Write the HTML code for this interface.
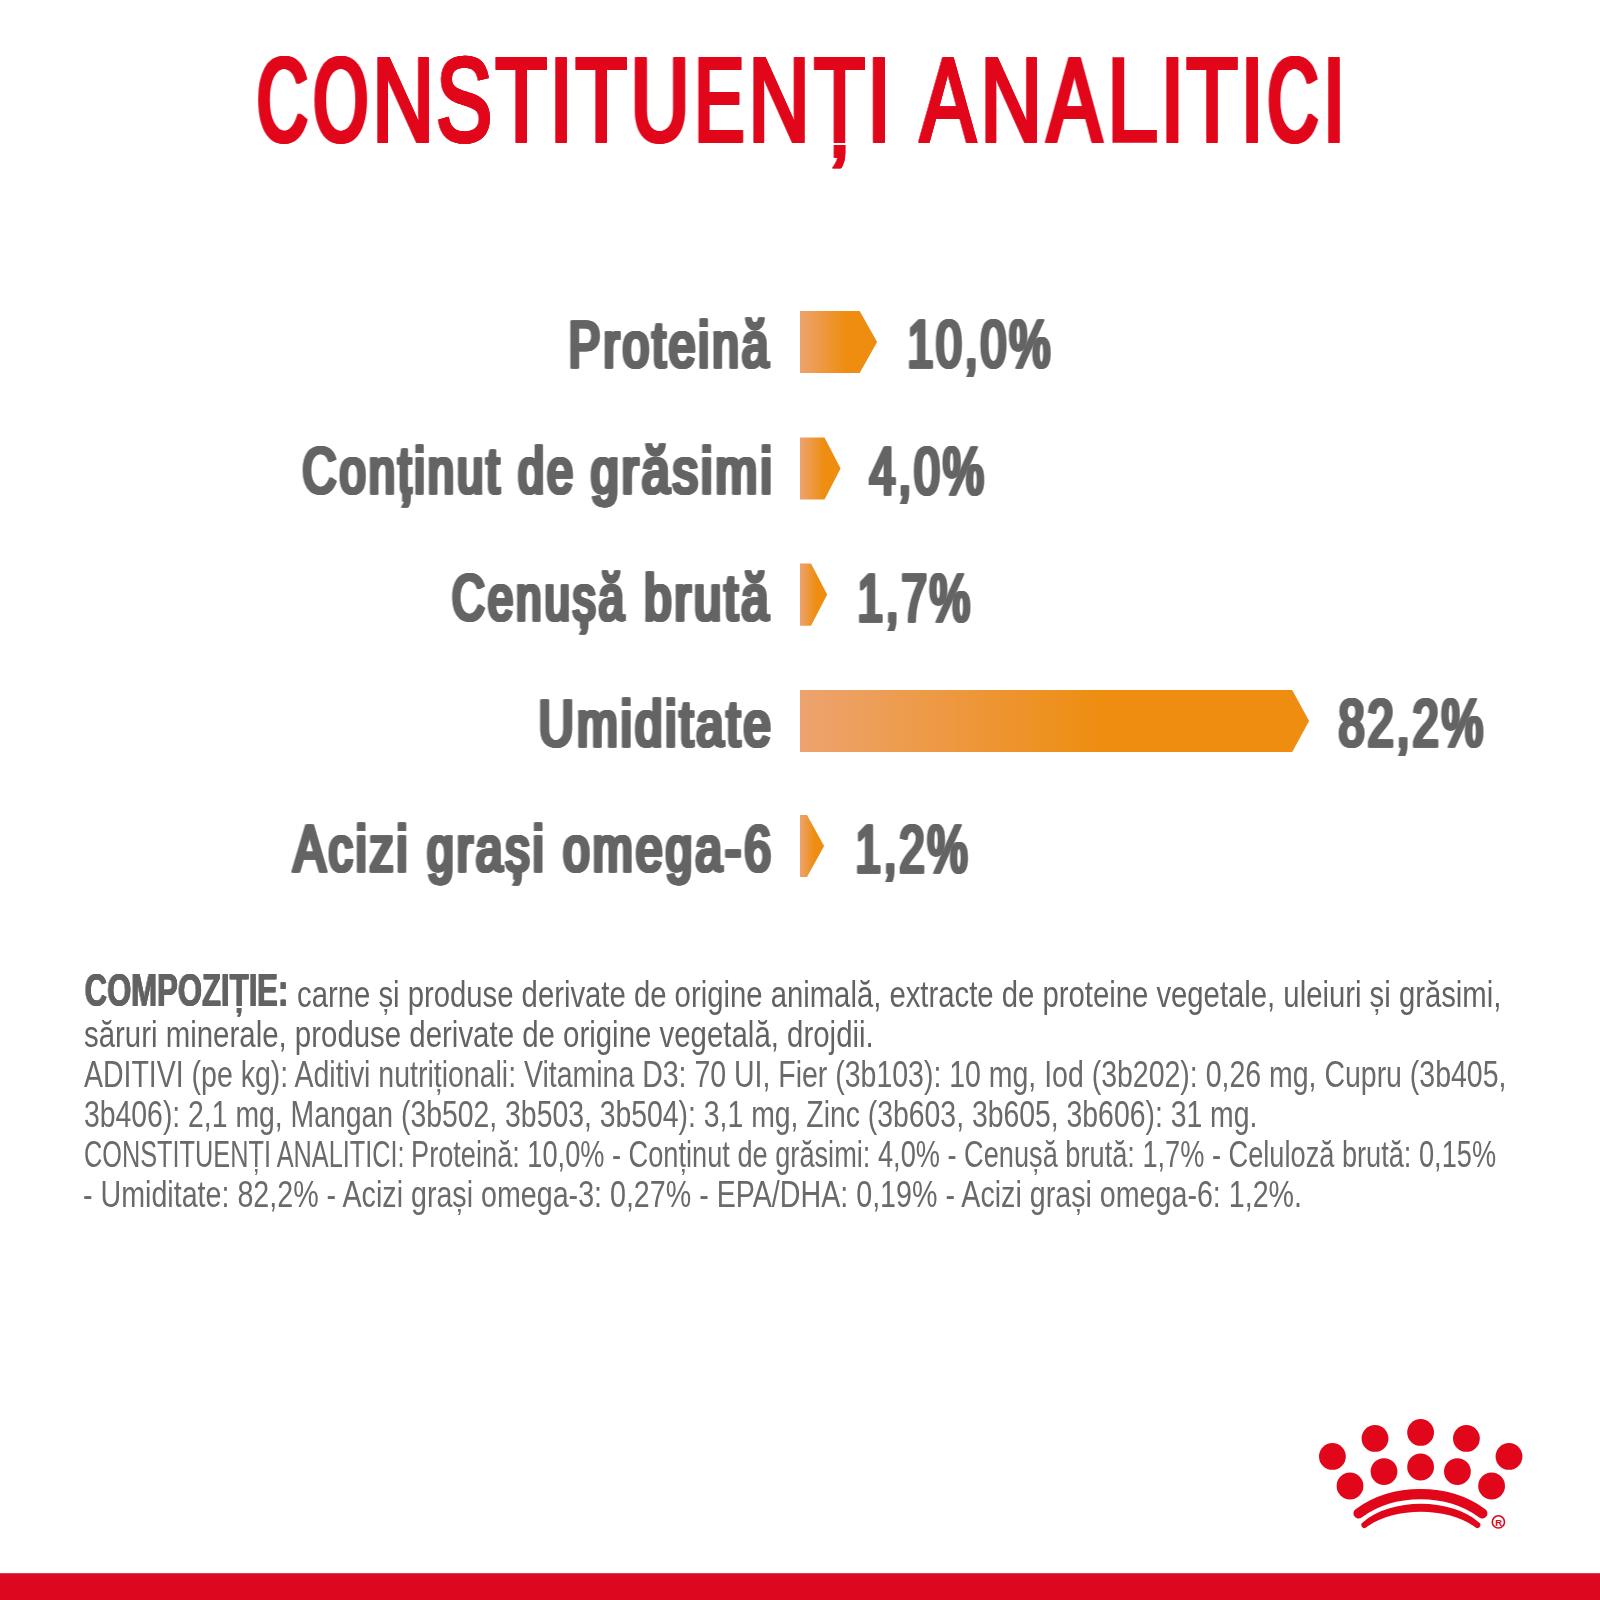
<!DOCTYPE html>
<html lang="ro"><head><meta charset="utf-8"><title>Constituenți analitici</title>
<style>
html,body{margin:0;padding:0;background:#fff}
body{width:1600px;height:1600px;position:relative;overflow:hidden;font-family:'Liberation Sans', sans-serif}
svg{position:absolute;left:0;top:0}
</style></head><body>
<svg width="1600" height="1600" viewBox="0 0 1600 1600">
<defs><linearGradient id="g" x1="0" y1="0" x2="1" y2="0"><stop offset="0" stop-color="#eda36f"/><stop offset="0.6" stop-color="#ee8d0f"/><stop offset="1" stop-color="#ee8d0f"/></linearGradient></defs>
<polygon fill="url(#g)" points="800,310.9 859.7,310.9 877.1,341.9 859.7,373.0 800,373.0"/>
<polygon fill="url(#g)" points="800,437.4 824.5,437.4 840.6,468.4 824.5,499.5 800,499.5"/>
<polygon fill="url(#g)" points="800,563.6 811.0,563.6 827.2,594.6 811.0,625.7 800,625.7"/>
<polygon fill="url(#g)" points="800,690.0 1292.2,690.0 1309.1,721.0 1292.2,752.1 800,752.1"/>
<polygon fill="url(#g)" points="800,814.9 807.0,814.9 824.1,845.9 807.0,877.0 800,877.0"/>
<g fill="#e2061b">
<circle cx="1375.0" cy="1438.4" r="13.4"/>
<circle cx="1420.6" cy="1432.4" r="13.4"/>
<circle cx="1466.4" cy="1438.4" r="13.4"/>
<circle cx="1332.4" cy="1456.4" r="13.4"/>
<circle cx="1509.0" cy="1456.4" r="13.4"/>
<circle cx="1384.0" cy="1471.6" r="13.4"/>
<circle cx="1420.6" cy="1467.0" r="13.4"/>
<circle cx="1457.4" cy="1471.6" r="13.4"/>
<circle cx="1350.0" cy="1486.0" r="13.4"/>
<circle cx="1491.6" cy="1486.0" r="13.4"/>
</g>
<path d="M1358.6 1513.3 C1393.6 1487.8 1447.3 1487.8 1482.3 1513.3" fill="none" stroke="#e2061b" stroke-linecap="round" stroke-width="10.3"/>
<path d="M1362.7 1522.4 C1390.7 1497.5 1451 1497.5 1479 1522.4 A3.1 3.1 0 0 1 1476 1527.8 C1448 1506.5 1393.7 1506.5 1365.7 1527.8 A3.1 3.1 0 0 1 1362.7 1522.4 Z" fill="#e2061b"/>
<circle cx="1498.4" cy="1521.9" r="6.1" fill="none" stroke="#e2061b" stroke-width="1.6"/>
<text x="1498.6" y="1526" text-anchor="middle" font-family="Liberation Sans, sans-serif" font-weight="700" font-size="9.6" fill="#e2061b">R</text>
<rect x="0" y="1573.2" width="1600" height="26.8" fill="#dd0820"/>
</svg>
<h1 id="title" style="margin:0;position:absolute;left:0;top:39.64px;white-space:nowrap;font:400 119.33px/119.33px 'Liberation Sans', sans-serif;color:#e2061b;-webkit-text-stroke:3.70px #e2061b;"><span id="t0" style="display:inline-block;transform-origin:0 0;transform:translateX(257.38px) scaleX(0.5844);filter:drop-shadow(2.42px 0 0 #e2061b) drop-shadow(-2.42px 0 0 #e2061b);">C</span><span id="t1" style="display:inline-block;transform-origin:0 0;transform:translateX(227.92px) scaleX(0.5827);filter:drop-shadow(2.46px 0 0 #e2061b) drop-shadow(-2.46px 0 0 #e2061b);">O</span><span id="t2" style="display:inline-block;transform-origin:0 0;transform:translateX(193.57px) scaleX(0.7189);filter:drop-shadow(0.59px 0 0 #e2061b) drop-shadow(-0.59px 0 0 #e2061b);">N</span><span id="t3" style="display:inline-block;transform-origin:0 0;transform:translateX(171.59px) scaleX(0.7029);filter:drop-shadow(0.82px 0 0 #e2061b) drop-shadow(-0.82px 0 0 #e2061b);">S</span><span id="t4" style="display:inline-block;transform-origin:0 0;transform:translateX(150.81px) scaleX(0.7096);filter:drop-shadow(0.74px 0 0 #e2061b) drop-shadow(-0.74px 0 0 #e2061b);">T</span><span id="t5" style="display:inline-block;transform-origin:0 0;transform:translateX(131.61px) scaleX(0.7202);filter:drop-shadow(0.70px 0 0 #e2061b) drop-shadow(-0.70px 0 0 #e2061b);">I</span><span id="t6" style="display:inline-block;transform-origin:0 0;transform:translateX(124.81px) scaleX(0.7096);filter:drop-shadow(0.74px 0 0 #e2061b) drop-shadow(-0.74px 0 0 #e2061b);">T</span><span id="t7" style="display:inline-block;transform-origin:0 0;transform:translateX(107.14px) scaleX(0.6749);filter:drop-shadow(1.01px 0 0 #e2061b) drop-shadow(-1.01px 0 0 #e2061b);">U</span><span id="t8" style="display:inline-block;transform-origin:0 0;transform:translateX(84.80px) scaleX(0.6246);filter:drop-shadow(1.91px 0 0 #e2061b) drop-shadow(-1.91px 0 0 #e2061b);">E</span><span id="t9" style="display:inline-block;transform-origin:0 0;transform:translateX(58.86px) scaleX(0.7119);filter:drop-shadow(0.69px 0 0 #e2061b) drop-shadow(-0.69px 0 0 #e2061b);">N</span><span id="t10" style="display:inline-block;transform-origin:0 0;transform:translateX(38.31px) scaleX(0.7040);filter:drop-shadow(0.83px 0 0 #e2061b) drop-shadow(-0.83px 0 0 #e2061b);">Ț</span><span id="t11" style="display:inline-block;transform-origin:0 0;transform:translateX(18.11px) scaleX(0.7453);filter:drop-shadow(0.70px 0 0 #e2061b) drop-shadow(-0.70px 0 0 #e2061b);">I</span> <span id="t12" style="display:inline-block;transform-origin:0 0;transform:translateX(5.58px) scaleX(0.6950);filter:drop-shadow(0.98px 0 0 #e2061b) drop-shadow(-0.98px 0 0 #e2061b);">A</span><span id="t13" style="display:inline-block;transform-origin:0 0;transform:translateX(-14.31px) scaleX(0.7161);filter:drop-shadow(0.63px 0 0 #e2061b) drop-shadow(-0.63px 0 0 #e2061b);">N</span><span id="t14" style="display:inline-block;transform-origin:0 0;transform:translateX(-33.32px) scaleX(0.6780);filter:drop-shadow(1.02px 0 0 #e2061b) drop-shadow(-1.02px 0 0 #e2061b);">A</span><span id="t15" style="display:inline-block;transform-origin:0 0;transform:translateX(-53.74px) scaleX(0.7881);">L</span><span id="t16" style="display:inline-block;transform-origin:0 0;transform:translateX(-66.34px) scaleX(0.7265);filter:drop-shadow(0.70px 0 0 #e2061b) drop-shadow(-0.70px 0 0 #e2061b);">I</span><span id="t17" style="display:inline-block;transform-origin:0 0;transform:translateX(-73.54px) scaleX(0.7089);filter:drop-shadow(0.75px 0 0 #e2061b) drop-shadow(-0.75px 0 0 #e2061b);">T</span><span id="t18" style="display:inline-block;transform-origin:0 0;transform:translateX(-92.54px) scaleX(0.7202);filter:drop-shadow(0.70px 0 0 #e2061b) drop-shadow(-0.70px 0 0 #e2061b);">I</span><span id="t19" style="display:inline-block;transform-origin:0 0;transform:translateX(-97.97px) scaleX(0.5838);filter:drop-shadow(2.44px 0 0 #e2061b) drop-shadow(-2.44px 0 0 #e2061b);">C</span><span id="t20" style="display:inline-block;transform-origin:0 0;transform:translateX(-129.58px) scaleX(0.7077);filter:drop-shadow(0.70px 0 0 #e2061b) drop-shadow(-0.70px 0 0 #e2061b);">I</span></h1>
<div id="r2" style="margin:0;position:absolute;left:0;top:438.06px;white-space:nowrap;font:400 65.55px/65.55px 'Liberation Sans', sans-serif;color:#646464;-webkit-text-stroke:2.90px #646464;"><span id="l2a" style="display:inline-block;transform-origin:0 0;transform:translateX(302.87px) scaleX(0.7144);filter:drop-shadow(1.30px 0 0 #646464) drop-shadow(-1.30px 0 0 #646464);letter-spacing:4.50px;">Conținut</span> <span id="l2b" style="display:inline-block;transform-origin:0 0;transform:translateX(220.59px) scaleX(0.7081);filter:drop-shadow(1.30px 0 0 #646464) drop-shadow(-1.30px 0 0 #646464);letter-spacing:4.50px;">de</span> <span id="l2c" style="display:inline-block;transform-origin:0 0;transform:translateX(192.13px) scaleX(0.7589);filter:drop-shadow(1.30px 0 0 #646464) drop-shadow(-1.30px 0 0 #646464);letter-spacing:4.50px;">grăsimi</span></div>
<div id="r3" style="margin:0;position:absolute;left:0;top:565.06px;white-space:nowrap;font:400 65.55px/65.55px 'Liberation Sans', sans-serif;color:#646464;-webkit-text-stroke:2.90px #646464;"><span id="l3a" style="display:inline-block;transform-origin:0 0;transform:translateX(452.37px) scaleX(0.6917);filter:drop-shadow(1.30px 0 0 #646464) drop-shadow(-1.30px 0 0 #646464);letter-spacing:4.50px;">Cenușă</span> <span id="l3b" style="display:inline-block;transform-origin:0 0;transform:translateX(373.75px) scaleX(0.7402);filter:drop-shadow(1.30px 0 0 #646464) drop-shadow(-1.30px 0 0 #646464);letter-spacing:4.50px;">brută</span></div>
<div id="l1" style="position:absolute;white-space:nowrap;left:568.91px;top:311.61px;font:400 65.55px/65.55px 'Liberation Sans', sans-serif;color:#646464;transform-origin:0 0;transform:scaleX(0.7247);filter:drop-shadow(1.30px 0 0 #646464) drop-shadow(-1.30px 0 0 #646464);-webkit-text-stroke:2.90px #646464;letter-spacing:4.50px;">Proteină</div>
<div id="l4" style="position:absolute;white-space:nowrap;left:538.82px;top:690.66px;font:400 65.55px/65.55px 'Liberation Sans', sans-serif;color:#646464;transform-origin:0 0;transform:scaleX(0.7414);filter:drop-shadow(1.30px 0 0 #646464) drop-shadow(-1.30px 0 0 #646464);-webkit-text-stroke:2.90px #646464;letter-spacing:4.50px;">Umiditate</div>
<div id="l5" style="position:absolute;white-space:nowrap;left:293.54px;top:816.26px;font:400 65.55px/65.55px 'Liberation Sans', sans-serif;color:#646464;transform-origin:0 0;transform:scaleX(0.7268);filter:drop-shadow(1.30px 0 0 #646464) drop-shadow(-1.30px 0 0 #646464);-webkit-text-stroke:2.90px #646464;letter-spacing:4.50px;">Acizi grași omega-6</div>
<div id="v1" style="position:absolute;white-space:nowrap;left:908.37px;top:310.38px;font:400 67.01px/67.01px 'Liberation Sans', sans-serif;color:#646464;transform-origin:0 0;transform:scaleX(0.6853);filter:drop-shadow(1.30px 0 0 #646464) drop-shadow(-1.30px 0 0 #646464);-webkit-text-stroke:2.90px #646464;letter-spacing:4.50px;">10,0%</div>
<div id="v2" style="position:absolute;white-space:nowrap;left:870.42px;top:436.83px;font:400 67.01px/67.01px 'Liberation Sans', sans-serif;color:#646464;transform-origin:0 0;transform:scaleX(0.6863);filter:drop-shadow(1.30px 0 0 #646464) drop-shadow(-1.30px 0 0 #646464);-webkit-text-stroke:2.90px #646464;letter-spacing:4.50px;">4,0%</div>
<div id="v3" style="position:absolute;white-space:nowrap;left:858.19px;top:563.83px;font:400 67.01px/67.01px 'Liberation Sans', sans-serif;color:#646464;transform-origin:0 0;transform:scaleX(0.6763);filter:drop-shadow(1.30px 0 0 #646464) drop-shadow(-1.30px 0 0 #646464);-webkit-text-stroke:2.90px #646464;letter-spacing:4.50px;">1,7%</div>
<div id="v4" style="position:absolute;white-space:nowrap;left:1338.77px;top:689.43px;font:400 67.01px/67.01px 'Liberation Sans', sans-serif;color:#646464;transform-origin:0 0;transform:scaleX(0.6940);filter:drop-shadow(1.30px 0 0 #646464) drop-shadow(-1.30px 0 0 #646464);-webkit-text-stroke:2.90px #646464;letter-spacing:4.50px;">82,2%</div>
<div id="v5" style="position:absolute;white-space:nowrap;left:855.89px;top:815.03px;font:400 67.01px/67.01px 'Liberation Sans', sans-serif;color:#646464;transform-origin:0 0;transform:scaleX(0.6738);filter:drop-shadow(1.30px 0 0 #646464) drop-shadow(-1.30px 0 0 #646464);-webkit-text-stroke:2.90px #646464;letter-spacing:4.50px;">1,2%</div>
<div id="p1b" style="position:absolute;white-space:nowrap;left:84.71px;top:967.48px;font:700 46.80px/46.80px 'Liberation Sans', sans-serif;color:#626262;transform-origin:0 0;transform:scaleX(0.6636);filter:drop-shadow(0.60px 0 0 #626262) drop-shadow(-0.60px 0 0 #626262);">COMPOZIȚIE:</div>
<div id="p1" style="position:absolute;white-space:nowrap;left:296.84px;top:975.76px;font:400 37.50px/37.50px 'Liberation Sans', sans-serif;color:#626262;transform-origin:0 0;transform:scaleX(0.7808);">carne și produse derivate de origine animală, extracte de proteine vegetale, uleiuri și grăsimi,</div>
<div id="p2" style="position:absolute;white-space:nowrap;left:84.33px;top:1015.66px;font:400 37.50px/37.50px 'Liberation Sans', sans-serif;color:#626262;transform-origin:0 0;transform:scaleX(0.7844);">săruri minerale, produse derivate de origine vegetală, drojdii.</div>
<div id="p3" style="position:absolute;white-space:nowrap;left:84.10px;top:1055.66px;font:400 37.50px/37.50px 'Liberation Sans', sans-serif;color:#6a6a6a;transform-origin:0 0;transform:scaleX(0.7594);">ADITIVI (pe kg): Aditivi nutriționali: Vitamina D3: 70 UI, Fier (3b103): 10 mg, Iod (3b202): 0,26 mg, Cupru (3b405,</div>
<div id="p4" style="position:absolute;white-space:nowrap;left:84.12px;top:1096.06px;font:400 37.50px/37.50px 'Liberation Sans', sans-serif;color:#6a6a6a;transform-origin:0 0;transform:scaleX(0.7565);">3b406): 2,1 mg, Mangan (3b502, 3b503, 3b504): 3,1 mg, Zinc (3b603, 3b605, 3b606): 31 mg.</div>
<div id="p5a" style="position:absolute;white-space:nowrap;left:83.99px;top:1135.76px;font:400 37.50px/37.50px 'Liberation Sans', sans-serif;color:#6a6a6a;transform-origin:0 0;transform:scaleX(0.6749);">CONSTITUENȚI ANALITICI:</div>
<div id="p5b" style="position:absolute;white-space:nowrap;left:411.03px;top:1135.76px;font:400 37.50px/37.50px 'Liberation Sans', sans-serif;color:#6a6a6a;transform-origin:0 0;transform:scaleX(0.7250);">Proteină: 10,0% - Conținut de grăsimi: 4,0% - Cenușă brută: 1,7% - Celuloză brută: 0,15%</div>
<div id="p6" style="position:absolute;white-space:nowrap;left:83.43px;top:1175.81px;font:400 37.50px/37.50px 'Liberation Sans', sans-serif;color:#6a6a6a;transform-origin:0 0;transform:scaleX(0.7639);">- Umiditate: 82,2% - Acizi grași omega-3: 0,27% - EPA/DHA: 0,19% - Acizi grași omega-6: 1,2%.</div>
</body></html>
